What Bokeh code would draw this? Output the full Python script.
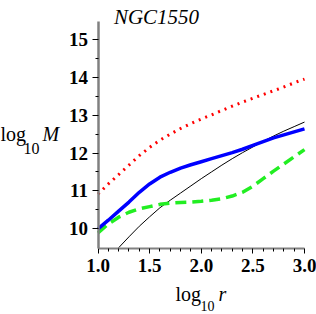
from bokeh.plotting import figure
from bokeh.models import FixedTicker, PrintfTickFormatter, Label
from bokeh.embed import file_html
from bokeh.resources import INLINE

# ---- data ----
log_r = [1.0, 1.1, 1.2, 1.3, 1.4, 1.5, 1.6, 1.7, 1.8, 1.9, 2.0,
         2.1, 2.2, 2.3, 2.4, 2.5, 2.6, 2.7, 2.8, 2.9, 3.0]
red_dotted = [10.91, 11.18, 11.43, 11.68, 11.93, 12.15, 12.34, 12.50, 12.65, 12.78, 12.90,
              13.01, 13.13, 13.24, 13.35, 13.45, 13.55, 13.65, 13.75, 13.86, 13.96]
blue_solid = [9.99, 10.22, 10.46, 10.70, 10.96, 11.18, 11.36, 11.49, 11.60, 11.69, 11.77,
              11.85, 11.93, 12.01, 12.10, 12.20, 12.30, 12.40, 12.48, 12.56, 12.64]
green_dashed = [9.88, 10.12, 10.30, 10.43, 10.52, 10.58, 10.64, 10.67, 10.69, 10.70, 10.72,
                10.75, 10.79, 10.86, 10.96, 11.12, 11.32, 11.52, 11.71, 11.90, 12.09]
black_r = [1.2, 1.3, 1.4, 1.5, 1.6, 1.7, 1.8, 1.9, 2.0,
           2.1, 2.2, 2.3, 2.4, 2.5, 2.6, 2.7, 2.8, 2.9, 3.0]
black_thin = [9.49, 9.78, 10.06, 10.31, 10.55, 10.75, 10.94, 11.13, 11.32,
              11.50, 11.68, 11.85, 12.01, 12.16, 12.31, 12.45, 12.58, 12.70, 12.82]
x_ticks = [1.0, 1.5, 2.0, 2.5, 3.0]
x_minor = [1.1, 1.2, 1.3, 1.4, 1.6, 1.7, 1.8, 1.9, 2.1, 2.2, 2.3, 2.4, 2.6, 2.7, 2.8, 2.9]
y_ticks = [10, 11, 12, 13, 14, 15]
y_minor = [10.5, 11.5, 12.5, 13.5, 14.5]
title_text = "NGC1550"
x_bounds = (1.0, 3.0)
y_bounds = (9.47, 15.49)

# ---- layout: the frame covers the whole canvas, axes sit at fixed data locations ----
W, H = 316, 314
AX_X_PX = 97.5      # pixel column of x = 1.0
AX_X_PX3 = 304.0    # pixel column of x = 3.0
Y10_PX = 228.0      # pixel row of y = 10
Y15_PX = 39.3       # pixel row of y = 15
SX = (AX_X_PX3 - AX_X_PX) / (x_bounds[1] - x_bounds[0])
SY = (Y10_PX - Y15_PX) / 5.0
X_START = x_bounds[0] - AX_X_PX / SX
X_END = X_START + W / SX
Y_END = 10.0 + Y10_PX / SY
Y_START = Y_END - H / SY

def dx(px):
    return X_START + px / SX

def dy(py):
    return Y_END - py / SY

p = figure(width=W, height=H, x_range=(X_START, X_END), y_range=(Y_START, Y_END),
           output_backend="svg", toolbar_location=None, min_border=0)
p.min_border_left = 0
p.min_border_right = 0
p.min_border_top = 0
p.min_border_bottom = 0
p.grid.visible = False
p.outline_line_color = None
p.background_fill_color = "white"
p.border_fill_color = "white"

p.line(log_r, red_dotted, line_color="#ff0000", line_width=3, line_dash="2 5")
p.line(black_r, black_thin, line_color="black", line_width=1)
p.line(log_r, green_dashed, line_color="#22ee22", line_width=3.5, line_dash="11 6")
p.line(log_r, blue_solid, line_color="#0000ff", line_width=3.5)

xa = p.xaxis[0]
ya = p.yaxis[0]
xa.fixed_location = y_bounds[0]
ya.fixed_location = x_bounds[0]
xa.bounds = x_bounds
ya.bounds = y_bounds
xa.ticker = FixedTicker(ticks=x_ticks, minor_ticks=x_minor)
ya.ticker = FixedTicker(ticks=y_ticks, minor_ticks=y_minor)
xa.formatter = PrintfTickFormatter(format="%.1f")
ya.formatter = PrintfTickFormatter(format="%d")
for ax in (xa, ya):
    ax.axis_line_color = "#808080"
    ax.major_tick_line_color = "black"
    ax.minor_tick_line_color = "black"
    ax.major_tick_in = 0
    ax.minor_tick_in = 0
    ax.major_label_text_font = "Liberation Serif"
    ax.major_label_text_font_style = "bold"
    ax.major_label_text_font_size = "19px"
    ax.major_label_text_color = "black"
ya.axis_line_width = 2.5
xa.axis_line_width = 2
ya.major_tick_out = 6
ya.minor_tick_out = 3
xa.major_tick_out = 5
xa.minor_tick_out = 3
ya.major_label_standoff = 4
xa.major_label_standoff = 5

FONT = "Liberation Serif"

def lab(px, py, text, size, style="normal", align="left"):
    p.add_layout(Label(x=dx(px), y=dy(py), text=text, text_font=FONT,
                       text_font_size=size, text_font_style=style,
                       text_align=align, text_baseline="alphabetic", text_color="black"))

# title
lab(156, 16, title_text, "21px", "italic", "center")
# y label: log_10 M
lab(0, 133.3, "log", "20px")
lab(23, 148, "10", "16px")
lab(42, 133.3, "M", "20px", "italic")
# x label: log_10 r
lab(175, 293, "log", "20px")
lab(200, 305, "10", "14px")
lab(218, 293, "r", "20px", "italic")

open("out.html", "w").write(file_html(p, INLINE))
